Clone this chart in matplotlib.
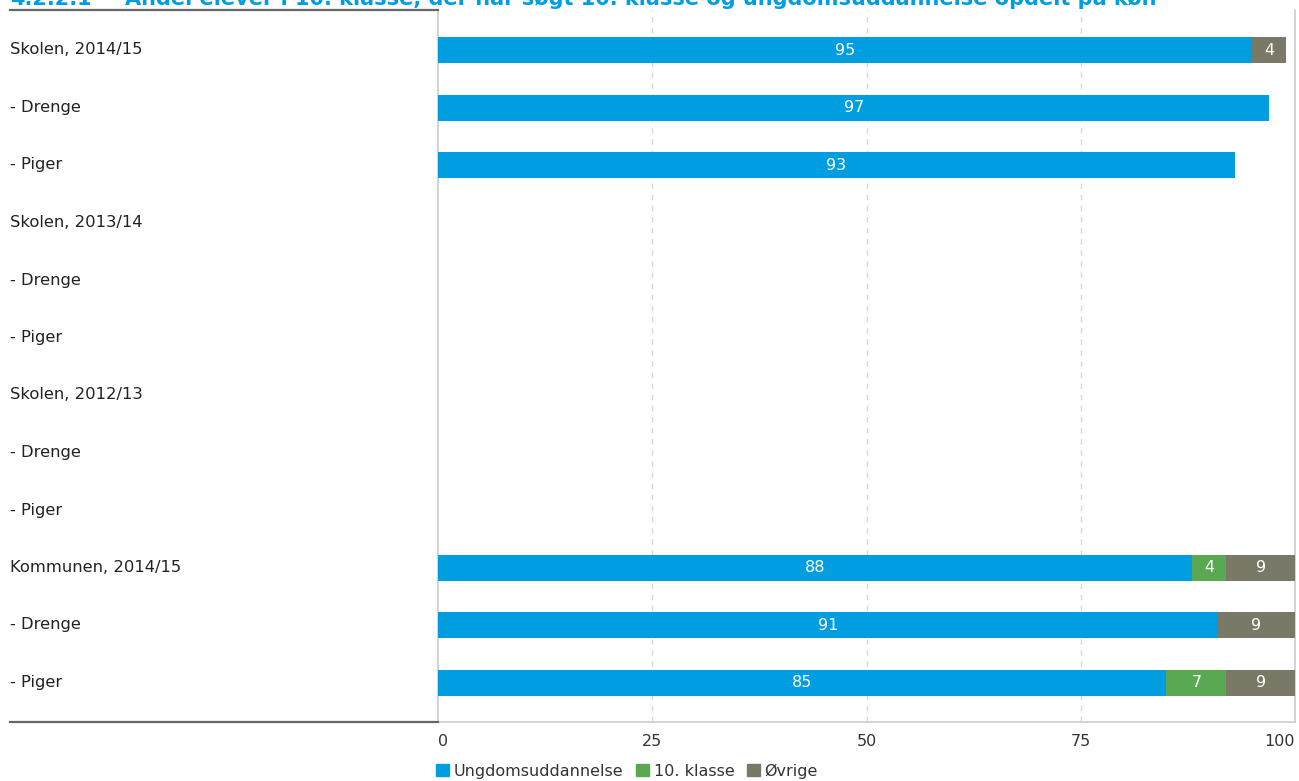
import matplotlib
matplotlib.use("Agg")
import matplotlib.pyplot as plt
from matplotlib.lines import Line2D
from matplotlib.patches import Patch

categories = ["Skolen, 2014/15", "- Drenge", "- Piger",
              "Skolen, 2013/14", "- Drenge", "- Piger",
              "Skolen, 2012/13", "- Drenge", "- Piger",
              "Kommunen, 2014/15", "- Drenge", "- Piger"]
ungdom = [95, 97, 93, 0, 0, 0, 0, 0, 0, 88, 91, 85]
klasse10 = [0, 0, 0, 0, 0, 0, 0, 0, 0, 4, 0, 7]
ovrige = [4, 0, 0, 0, 0, 0, 0, 0, 0, 9, 9, 9]
series_names = ["Ungdomsuddannelse", "10. klasse", "Øvrige"]
colors = ["#009EE0", "#5BA852", "#7A7866"]
xticks = [0, 25, 50, 75, 100]

W, H = 1299, 781
fig = plt.figure(figsize=(W / 100, H / 100), dpi=100)
ax = fig.add_axes([438 / W, 1 - 722 / H, (1295 - 438) / W, (722 - 10) / H])

ys = list(range(len(categories)))
left = [0] * len(categories)
for vals, col in zip([ungdom, klasse10, ovrige], colors):
    ax.barh(ys, vals, left=left, height=0.45, color=col, zorder=3)
    for y, v, l in zip(ys, vals, left):
        if v > 0:
            cx = (l + min(l + v, 100)) / 2
            ax.text(cx, y, f"{v}", ha="center", va="center", color="white",
                    fontsize=11.5, zorder=4)
    left = [a + b for a, b in zip(left, vals)]

ax.set_xlim(0, 100)
ax.set_ylim(11 + 39 / 57.5, -40 / 57.5)
ax.set_yticks([])
ax.set_xticks(xticks)
ax.set_xticklabels([str(t) for t in xticks], fontsize=11.5, color="#333333")
labs = ax.get_xticklabels()
labs[0].set_ha("left")
labs[-1].set_ha("right")
ax.tick_params(axis="x", length=0, pad=9)
for t in xticks[1:-1]:
    ax.axvline(t, color="#d8d8d8", lw=1, ls=(0, (4, 4)), zorder=1)

for s in ["left", "right", "bottom"]:
    ax.spines[s].set_color("#cccccc")
    ax.spines[s].set_linewidth(1.2)
ax.spines["top"].set_visible(False)

# category labels column
for i, c in enumerate(categories):
    ypix = 50 + 57.5 * i
    fig.text(10 / W, 1 - ypix / H, c, ha="left", va="center",
             fontsize=11.8, color="#222222")
fig.add_artist(Line2D([10 / W, 438 / W], [1 - 10 / H, 1 - 10 / H],
                      color="#666666", lw=1.6))
fig.add_artist(Line2D([10 / W, 438 / W], [1 - 722 / H, 1 - 722 / H],
                      color="#666666", lw=1.6))

# title (partly cut off at top, as in the reference)
fig.text(10 / W, 1 - 5 / H, "4.2.2.1", ha="left", va="baseline",
         fontsize=15, fontweight="bold", color="#009EE0")
fig.text(125 / W, 1 - 5 / H,
         "Andel elever i 10. klasse, der har søgt 10. klasse og ungdomsuddannelse opdelt på køn",
         ha="left", va="baseline", fontsize=15, fontweight="bold", color="#009EE0")

handles = [Patch(color=c, label=n) for c, n in zip(colors, series_names)]
leg = fig.legend(handles=handles, loc="center", bbox_to_anchor=(627 / W, 1 - 771 / H),
                 ncol=3, frameon=False, fontsize=11.5, handlelength=0.8, handleheight=0.8,
                 handletextpad=0.3, columnspacing=0.8)
for t in leg.get_texts():
    t.set_color("#333333")

fig.savefig("out.png", dpi=100)
